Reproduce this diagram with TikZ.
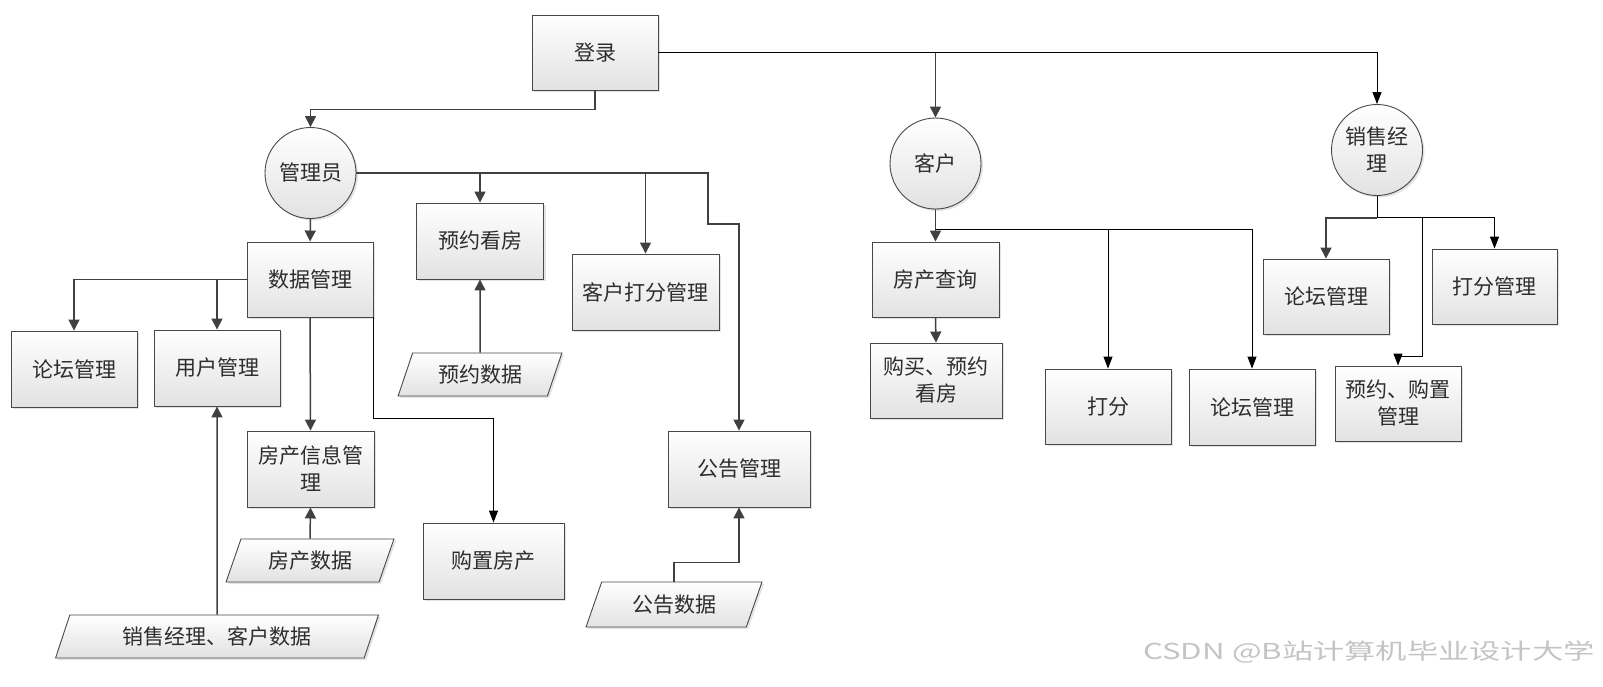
\documentclass[tikz,border=0pt]{standalone}
\usepackage{fontspec}
\newfontfamily\cjk{Noto Sans CJK SC}
\usetikzlibrary{arrows.meta,shapes.geometric,shadows}
\definecolor{edgegray}{RGB}{72,72,72}
\definecolor{flowgray}{RGB}{64,64,64}
\definecolor{fadegray}{RGB}{226,226,226}
\definecolor{markgray}{RGB}{196,196,196}
\definecolor{inkgray}{RGB}{45,45,45}

\begin{document}
\begin{tikzpicture}[
    x=1pt, y=-1pt,
    every node/.style={font=\cjk\fontsize{21}{27}\selectfont, text=inkgray},
    soft/.style={top color=white, bottom color=fadegray, drop shadow={shadow xshift=2pt, shadow yshift=-2pt, opacity=0.22}},
    box/.style={draw=edgegray, line width=0.9pt, align=center, minimum width=126pt, minimum height=75pt, soft},
    role/.style={circle, draw=edgegray, line width=0.9pt, align=center, minimum size=91pt, inner sep=0pt, soft},
    datum/.style={trapezium, trapezium left angle=65, trapezium right angle=115, trapezium stretches=true, draw=edgegray, line width=0.9pt, minimum height=43pt, inner sep=0pt, soft},
    flow/.style={-{Triangle[length=11pt,width=11pt]}, line width=1.5pt, flowgray},
    link/.style={-{Triangle[length=12pt,width=9pt]}, line width=1pt, black}
]
\useasboundingbox (0,0) rectangle (1603,686);
\node[box] (login) at (595,52.5) {登录};
\node[role] (admin) at (310.5,173) {管理员};
\node[role] (customer) at (935.5,163.5) {客户};
\node[role] (sales) at (1377,150) {销售经\\理};
\node[box] (datamgr) at (310,279.5) {数据管理};
\node[box, minimum height=76pt] (forum) at (74,369) {论坛管理};
\node[box, minimum height=76pt] (users) at (217,368) {用户管理};
\node[box, minimum width=127pt, minimum height=76pt] (houseinfo) at (310.5,469) {房产信息管\\理};
\node[box, minimum width=141pt, minimum height=76pt] (purchase) at (493.5,561) {购置房产};
\node[box, minimum width=127pt, minimum height=76pt] (viewing) at (480,241) {预约看房};
\node[box, minimum width=147pt, minimum height=76pt] (scoremgr) at (645.5,292) {客户打分管理};
\node[box, minimum width=142pt, minimum height=76pt] (notice) at (739,469) {公告管理};
\node[box, minimum width=127pt] (search) at (935.5,279.5) {房产查询};
\node[box, minimum width=132pt] (buyview) at (936,380.5) {购买、预约\\看房};
\node[box] (score) at (1108,406.5) {打分};
\node[box, minimum height=76pt] (cforum) at (1252,407) {论坛管理};
\node[box] (sforum) at (1326,296.5) {论坛管理};
\node[box, minimum width=125pt] (sscore) at (1494.5,286.5) {打分管理};
\node[box] (booking) at (1398,403.5) {预约、购置\\管理};
\node[datum, minimum width=168pt] (housedata) at (310,560.5) {房产数据};
\node[datum, minimum width=164pt] (viewdata) at (480,374.5) {预约数据};
\node[datum, minimum width=176pt, minimum height=45pt] (noticedata) at (674,604.5) {公告数据};
\node[datum, minimum width=323pt] (userdata) at (217,636.5) {销售经理、客户数据};
\node[anchor=east, text=markgray, font=\cjk\fontsize{22}{22}\selectfont] (mark) at (1598,652) {\scalebox{1.42}[1]{CSDN @B站计算机毕业设计大学}};
\draw[flow] (login.south) -- ++(0,19) -| (admin.north);
\draw[link] (login.east) -| (sales.north);
\draw[flow] (login.east -| customer.north) -- (customer.north);
\draw[flow] (admin.south) -- (datamgr.north);
\coordinate (abend) at (708,224);
\draw[flow] (admin.east) -| (abend) -| (notice.north);
\draw[flow] (admin.east -| viewing.north) -- (viewing.north);
\draw[flow] (admin.east -| scoremgr.north) -- (scoremgr.north);
\draw[flow] (datamgr.west) -| (forum.north);
\draw[flow] (datamgr.west -| users.north) -- (users.north);
\draw[flow] (datamgr.south) -- (houseinfo.north);
\draw[link] (datamgr.south east) -- ++(0,101) -| (purchase.north);
\draw[flow] (housedata.north) -- (houseinfo.south);
\draw[flow] (userdata.north) -- (users.south);
\draw[flow] (viewdata.north) -- (viewing.south);
\draw[flow] (noticedata.north) -- ++(0,-19) -| (notice.south);
\draw[flow] (customer.south) -- (search.north);
\coordinate (cfork) at ([yshift=-20pt]customer.south);
\draw[link] (cfork) -| (cforum.north);
\draw[link] (cfork -| score.north) -- (score.north);
\draw[flow] (search.south) -- (buyview.north);
\coordinate (sfork) at ([yshift=-22pt]sales.south);
\coordinate (sbend) at (1422,356);
\draw[line width=1pt] (sales.south) -- (sfork);
\draw[flow] (sfork) -| (sforum.north);
\draw[link] (sfork) -| (sscore.north);
\draw[link] (sfork -| sbend) -- (sbend) -| (booking.north);
\end{tikzpicture}
\end{document}
